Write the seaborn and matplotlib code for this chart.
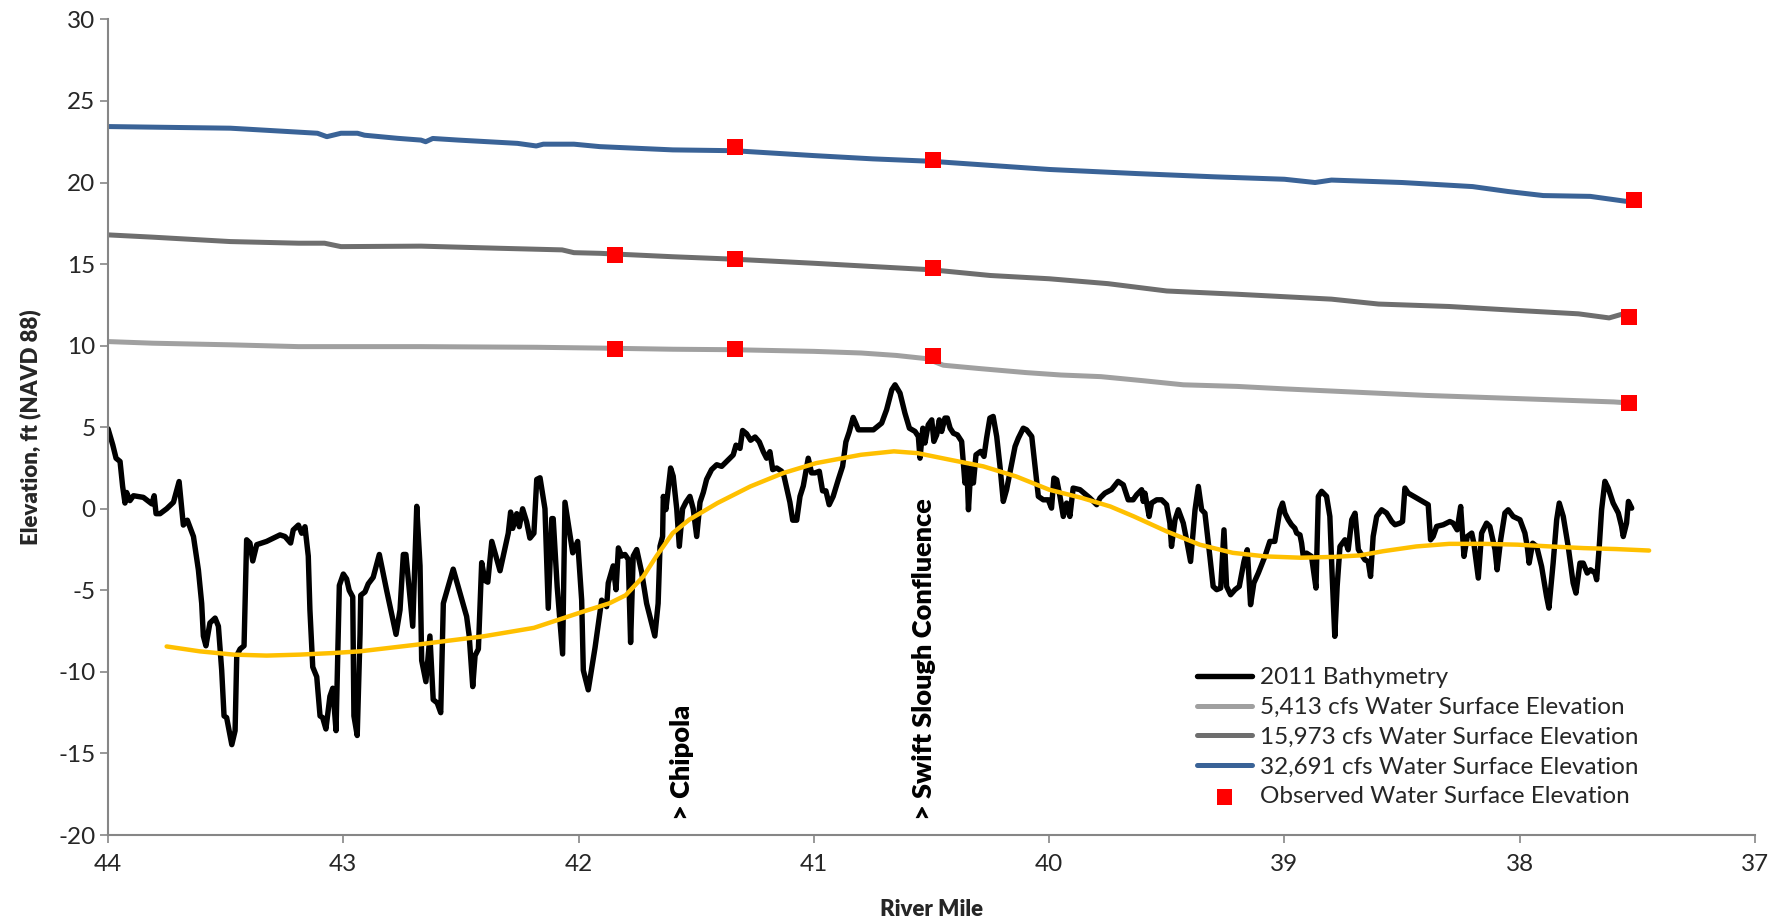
import matplotlib
matplotlib.use('Agg')
import matplotlib.pyplot as plt
import seaborn as sns

# ---- data ----
bathy_mile = [
    44.000, 43.980, 43.966, 43.949, 43.938, 43.928, 43.921, 43.907, 43.892, 43.850,
    43.814, 43.804, 43.796, 43.779, 43.751, 43.722, 43.698, 43.680, 43.663, 43.637,
    43.616, 43.602, 43.595, 43.584, 43.567, 43.545, 43.531, 43.517, 43.507, 43.496,
    43.474, 43.460, 43.453, 43.439, 43.422, 43.411, 43.397, 43.385, 43.368, 43.326,
    43.269, 43.248, 43.224, 43.213, 43.191, 43.177, 43.163, 43.149, 43.142, 43.130,
    43.113, 43.099, 43.088, 43.074, 43.057, 43.045, 43.031, 43.017, 43.000, 42.986,
    42.975, 42.960, 42.955, 42.941, 42.929, 42.926, 42.908, 42.894, 42.873, 42.847,
    42.816, 42.776, 42.759, 42.745, 42.734, 42.705, 42.688, 42.674, 42.667, 42.649,
    42.632, 42.618, 42.601, 42.586, 42.575, 42.561, 42.547, 42.533, 42.476, 42.465,
    42.450, 42.440, 42.426, 42.412, 42.398, 42.386, 42.369, 42.334, 42.299, 42.289,
    42.280, 42.263, 42.252, 42.238, 42.221, 42.207, 42.190, 42.178, 42.164, 42.143,
    42.129, 42.114, 42.108, 42.091, 42.068, 42.058, 42.044, 42.025, 42.004, 41.987,
    41.980, 41.959, 41.930, 41.902, 41.881, 41.874, 41.853, 41.841, 41.831, 41.817,
    41.803, 41.789, 41.779, 41.768, 41.753, 41.732, 41.711, 41.697, 41.676, 41.662,
    41.654, 41.643, 41.640, 41.629, 41.619, 41.609, 41.598, 41.583, 41.572, 41.558,
    41.544, 41.527, 41.513, 41.498, 41.484, 41.470, 41.456, 41.435, 41.413, 41.392,
    41.364, 41.343, 41.331, 41.314, 41.303, 41.286, 41.269, 41.250, 41.232, 41.215,
    41.201, 41.187, 41.175, 41.158, 41.137, 41.127, 41.102, 41.090, 41.073, 41.059,
    41.045, 41.024, 41.010, 40.995, 40.977, 40.963, 40.949, 40.935, 40.918, 40.896,
    40.878, 40.864, 40.850, 40.833, 40.821, 40.811, 40.776, 40.747, 40.712, 40.691,
    40.669, 40.655, 40.634, 40.613, 40.594, 40.570, 40.556, 40.549, 40.537, 40.528,
    40.514, 40.499, 40.490, 40.478, 40.467, 40.457, 40.443, 40.433, 40.421, 40.407,
    40.390, 40.372, 40.358, 40.350, 40.343, 40.333, 40.322, 40.311, 40.291, 40.277,
    40.266, 40.252, 40.238, 40.223, 40.209, 40.195, 40.181, 40.167, 40.145, 40.131,
    40.110, 40.096, 40.074, 40.060, 40.046, 40.025, 40.004, 39.990, 39.980, 39.968,
    39.954, 39.940, 39.926, 39.912, 39.898, 39.869, 39.827, 39.798, 39.784, 39.763,
    39.735, 39.707, 39.685, 39.664, 39.643, 39.628, 39.607, 39.600, 39.593, 39.575,
    39.565, 39.543, 39.522, 39.501, 39.487, 39.480, 39.465, 39.451, 39.430, 39.416,
    39.399, 39.380, 39.366, 39.352, 39.338, 39.317, 39.303, 39.288, 39.271, 39.257,
    39.246, 39.229, 39.210, 39.192, 39.172, 39.158, 39.144, 39.130, 39.111, 39.083,
    39.062, 39.041, 39.019, 39.008, 38.998, 38.984, 38.970, 38.956, 38.948, 38.934,
    38.927, 38.920, 38.906, 38.885, 38.866, 38.856, 38.842, 38.821, 38.807, 38.797,
    38.786, 38.776, 38.764, 38.743, 38.729, 38.714, 38.700, 38.686, 38.658, 38.644,
    38.634, 38.623, 38.608, 38.587, 38.566, 38.544, 38.530, 38.509, 38.498, 38.488,
    38.474, 38.438, 38.389, 38.379, 38.368, 38.353, 38.325, 38.297, 38.283, 38.266,
    38.251, 38.237, 38.223, 38.204, 38.195, 38.176, 38.162, 38.141, 38.127, 38.105,
    38.096, 38.081, 38.063, 38.049, 38.028, 37.999, 37.978, 37.968, 37.960, 37.945,
    37.928, 37.907, 37.886, 37.876, 37.858, 37.843, 37.832, 37.815, 37.794, 37.773,
    37.761, 37.744, 37.730, 37.713, 37.699, 37.680, 37.673, 37.662, 37.652, 37.638,
    37.624, 37.603, 37.581, 37.567, 37.560, 37.546, 37.538, 37.524,
]
bathy_elev = [
    4.90, 3.92, 3.10, 2.90, 1.37, 0.35, 1.00, 0.50, 0.80, 0.70,
    0.30, 0.80, -0.30, -0.30, 0.00, 0.40, 1.67, -1.00, -0.70, -1.70,
    -3.75, -5.80, -7.80, -8.40, -7.00, -6.70, -7.20, -9.90, -12.70, -12.80,
    -14.46, -13.60, -9.00, -8.60, -8.40, -1.90, -2.10, -3.20, -2.20, -2.00,
    -1.60, -1.70, -2.10, -1.30, -1.00, -1.50, -1.10, -2.90, -6.20, -9.70,
    -10.30, -12.70, -12.80, -13.50, -11.50, -11.00, -13.60, -4.70, -4.00, -4.30,
    -5.00, -5.40, -12.70, -13.90, -7.70, -5.30, -5.10, -4.60, -4.20, -2.80,
    -5.00, -7.70, -6.20, -2.80, -2.80, -7.20, 0.15, -3.50, -9.30, -10.60,
    -7.80, -11.70, -11.90, -12.50, -5.80, -5.10, -4.40, -3.70, -6.60, -7.80,
    -10.90, -9.00, -8.60, -3.30, -4.40, -4.50, -2.00, -3.80, -1.50, -0.20,
    -1.20, -0.30, -1.10, 0.00, -0.80, -1.80, -1.50, 1.80, 1.90, 0.00,
    -6.10, -0.60, -0.60, -4.80, -8.90, 0.40, -0.90, -2.70, -2.00, -5.60,
    -9.90, -11.10, -8.50, -5.60, -6.00, -4.55, -3.50, -4.96, -2.40, -2.90,
    -2.80, -3.10, -8.20, -2.90, -2.50, -3.90, -5.80, -6.60, -7.80, -5.80,
    -2.30, -1.70, 0.76, -0.05, 1.20, 2.50, 2.00, 0.00, -2.30, 0.00,
    0.40, 0.76, 0.00, -1.70, 0.40, 1.00, 1.80, 2.40, 2.70, 2.60,
    3.00, 3.30, 3.90, 3.70, 4.80, 4.60, 4.20, 4.40, 4.10, 3.50,
    3.10, 3.50, 2.40, 2.50, 2.30, 2.00, 0.40, -0.70, -0.70, 0.76,
    1.40, 3.10, 2.20, 2.20, 2.30, 1.10, 1.10, 0.25, 0.76, 1.80,
    2.60, 4.10, 4.70, 5.60, 5.20, 4.84, 4.84, 4.84, 5.25, 6.07,
    7.29, 7.60, 7.09, 5.86, 4.94, 4.74, 4.43, 3.10, 4.94, 4.03,
    5.15, 5.45, 4.13, 4.53, 5.45, 4.74, 5.56, 5.56, 4.94, 4.63,
    4.53, 4.13, 1.58, 2.60, -0.06, 2.49, 1.58, 3.31, 3.52, 3.21,
    4.33, 5.56, 5.66, 4.43, 2.60, 0.45, 1.17, 2.19, 3.82, 4.33,
    4.94, 4.84, 4.43, 2.60, 0.76, 0.55, 0.55, 0.04, 1.88, 1.78,
    0.76, -0.47, 0.35, -0.47, 1.27, 1.17, 0.66, 0.25, 0.66, 0.96,
    1.17, 1.68, 1.47, 0.55, 0.55, 0.86, 1.17, 0.45, 0.96, -0.47,
    0.35, 0.55, 0.55, 0.25, -0.88, -2.31, -0.67, -0.06, -0.88, -1.90,
    -3.23, -0.06, 1.37, -0.06, -0.27, -2.92, -4.76, -4.96, -4.86, -1.29,
    -4.76, -5.27, -4.96, -4.76, -3.23, -2.51, -5.88, -4.55, -3.94, -2.92,
    -2.00, -2.00, -0.06, 0.35, -0.27, -0.67, -0.98, -1.19, -1.49, -1.60,
    -2.11, -2.92, -2.72, -2.92, -4.86, 0.76, 1.07, 0.76, -0.47, -4.15,
    -7.82, -4.76, -2.31, -1.90, -2.51, -0.67, -0.27, -2.50, -3.13, -3.23,
    -4.15, -1.70, -0.47, -0.06, -0.26, -0.78, -0.98, -0.88, -0.78, 1.27,
    0.96, 0.66, 0.25, -1.90, -1.70, -1.08, -0.98, -0.78, -0.88, -1.29,
    0.14, -2.92, -1.70, -1.49, -2.11, -4.25, -1.49, -0.88, -1.08, -2.51,
    -3.74, -1.90, -0.26, -0.06, -0.47, -0.67, -1.49, -2.31, -3.33, -2.11,
    -2.31, -3.54, -5.37, -6.09, -3.33, -0.67, 0.35, -0.47, -2.31, -4.55,
    -5.17, -3.33, -3.33, -3.94, -3.74, -3.94, -4.35, -2.31, -0.06, 1.68,
    1.27, 0.35, -0.26, -1.08, -1.70, -0.88, 0.45, 0.04,
]

wse_5413_mile = [44.0, 43.81, 43.48, 43.19, 42.67, 42.18, 41.91, 41.6, 41.34, 41.0,
                 40.8, 40.65, 40.52, 40.45, 40.3, 40.1, 39.95, 39.78, 39.6, 39.43,
                 39.2, 39.0, 38.7, 38.4, 38.1, 37.8, 37.6, 37.55]
wse_5413_elev = [10.25, 10.15, 10.05, 9.94, 9.94, 9.9, 9.85, 9.78, 9.75, 9.65,
                 9.55, 9.4, 9.2, 8.8, 8.6, 8.35, 8.2, 8.1, 7.85, 7.6,
                 7.5, 7.35, 7.15, 6.95, 6.8, 6.65, 6.55, 6.5]

wse_15973_mile = [44.0, 43.81, 43.48, 43.19, 43.08, 43.01, 42.67, 42.34, 42.07, 42.02,
                  41.91, 41.6, 41.34, 41.0, 40.75, 40.5, 40.25, 40.0, 39.75, 39.5,
                  39.2, 39.0, 38.8, 38.6, 38.3, 38.0, 37.75, 37.62, 37.56]
wse_15973_elev = [16.79, 16.65, 16.38, 16.28, 16.28, 16.07, 16.1, 15.97, 15.87, 15.7,
                  15.66, 15.45, 15.3, 15.05, 14.85, 14.65, 14.3, 14.1, 13.8, 13.35,
                  13.15, 13.0, 12.85, 12.55, 12.4, 12.15, 11.95, 11.7, 11.95]

wse_32691_mile = [44.0, 43.48, 43.11, 43.07, 43.01, 42.94, 42.91, 42.77, 42.67, 42.65,
                  42.62, 42.51, 42.26, 42.18, 42.15, 42.02, 41.91, 41.6, 41.34, 41.0,
                  40.75, 40.5, 40.2, 40.0, 39.63, 39.3, 39.0, 38.87, 38.8, 38.5,
                  38.2, 38.05, 37.9, 37.7, 37.55]
wse_32691_elev = [23.43, 23.33, 23.02, 22.81, 23.02, 23.02, 22.9, 22.71, 22.6, 22.5,
                  22.7, 22.6, 22.4, 22.24, 22.35, 22.35, 22.2, 22.0, 21.95, 21.65,
                  21.45, 21.3, 21.0, 20.8, 20.55, 20.35, 20.2, 20.0, 20.15, 20.0,
                  19.75, 19.45, 19.2, 19.15, 18.85]

trend_mile = [43.751, 43.61, 43.467, 43.326, 43.184, 43.04, 42.93, 42.688, 42.405, 42.19,
              41.98, 41.87, 41.80, 41.725, 41.67, 41.60, 41.53, 41.41, 41.27, 41.13,
              40.99, 40.80, 40.66, 40.56, 40.42, 40.28, 40.14, 40.00, 39.86, 39.74,
              39.64, 39.50, 39.36, 39.22, 39.08, 38.93, 38.79, 38.68, 38.58, 38.44,
              38.30, 38.155, 38.01, 37.87, 37.73, 37.59, 37.45]
trend_elev = [-8.44, -8.74, -8.94, -9.0, -8.94, -8.84, -8.74, -8.33, -7.82, -7.3,
              -6.3, -5.8, -5.3, -4.15, -2.92, -1.49, -0.67, 0.35, 1.37, 2.19,
              2.8, 3.31, 3.52, 3.41, 3.0, 2.6, 1.98, 1.17, 0.66, 0.14,
              -0.47, -1.39, -2.2, -2.7, -2.92, -3.0, -2.95, -2.86, -2.6, -2.31,
              -2.15, -2.15, -2.2, -2.31, -2.41, -2.47, -2.56]

obs_mile = [41.844, 41.336, 40.495, 37.537, 41.844, 41.336, 40.495, 37.537, 41.336, 40.495, 37.513]
obs_elev = [9.8, 9.8, 9.39, 6.46, 15.58, 15.3, 14.75, 11.75, 22.2, 21.36, 18.93]

notes = ['> Chipola', '> Swift Slough Confluence']
note_mile = [41.559, 40.534]
note_elev = [-19.1, -19.1]

x_ticks = [44, 43, 42, 41, 40, 39, 38, 37]
y_ticks = [-20, -15, -10, -5, 0, 5, 10, 15, 20, 25, 30]

sns.set_theme(style='white')
plt.rcParams['font.family'] = ['Lato', 'DejaVu Sans']
plt.rcParams['axes.unicode_minus'] = False

fig, ax = plt.subplots(figsize=(17.83, 9.23), dpi=100)
fig.subplots_adjust(left=0.0606, right=0.9843, bottom=0.0953, top=0.979)

sns.lineplot(x=bathy_mile, y=bathy_elev, sort=False, estimator=None, color='black',
             linewidth=3.9, label='2011 Bathymetry', ax=ax, zorder=2)
sns.lineplot(x=wse_5413_mile, y=wse_5413_elev, sort=False, estimator=None, color='#A0A0A0',
             linewidth=3.6, label='5,413 cfs Water Surface Elevation', ax=ax, zorder=2)
sns.lineplot(x=wse_15973_mile, y=wse_15973_elev, sort=False, estimator=None, color='#6E6E6E',
             linewidth=3.6, label='15,973 cfs Water Surface Elevation', ax=ax, zorder=2)
sns.lineplot(x=wse_32691_mile, y=wse_32691_elev, sort=False, estimator=None, color='#3A6397',
             linewidth=3.6, label='32,691 cfs Water Surface Elevation', ax=ax, zorder=2)
sns.scatterplot(x=obs_mile, y=obs_elev, marker='s', color='#FF0000', s=130, edgecolor='none',
                label='Observed Water Surface Elevation', ax=ax, zorder=5)
# trendline, not in legend
sns.lineplot(x=trend_mile, y=trend_elev, sort=False, estimator=None, color='#FFC000',
             linewidth=3.2, ax=ax, zorder=3, legend=False)

for txt, xm, ye in zip(notes, note_mile, note_elev):
    ax.text(xm, ye, txt, rotation=90, ha='center', va='bottom',
            fontsize=19.5, fontweight='heavy', color='black')

ax.set_xlim(44, 37)
ax.set_ylim(-20, 30)
ax.set_xticks(x_ticks)
ax.set_xticklabels([str(t) for t in x_ticks])
ax.set_yticks(y_ticks)
ax.set_yticklabels([str(t) for t in y_ticks])
ax.tick_params(axis='both', which='major', labelsize=17.5, length=6, width=1.2,
               color='#868686', direction='out', bottom=True, left=True)
ax.tick_params(axis='x', pad=8)
ax.tick_params(axis='y', pad=3)

for side in ['top', 'right']:
    ax.spines[side].set_visible(False)
for side in ['left', 'bottom']:
    ax.spines[side].set_color('#868686')
    ax.spines[side].set_linewidth(1.5)

ax.set_xlabel('River Mile', fontsize=16, fontweight='heavy', labelpad=17)
ax.set_ylabel('Elevation, ft (NAVD 88)', fontsize=16, fontweight='heavy', labelpad=12)

handles, labels = ax.get_legend_handles_labels()
ax.legend(handles, labels, loc='lower left', bbox_to_anchor=(0.655, 0.022), frameon=False,
          fontsize=17.5, handlelength=2.3, handletextpad=0.3, labelspacing=0.36,
          borderaxespad=0)

fig.savefig('out.png', dpi=100)
